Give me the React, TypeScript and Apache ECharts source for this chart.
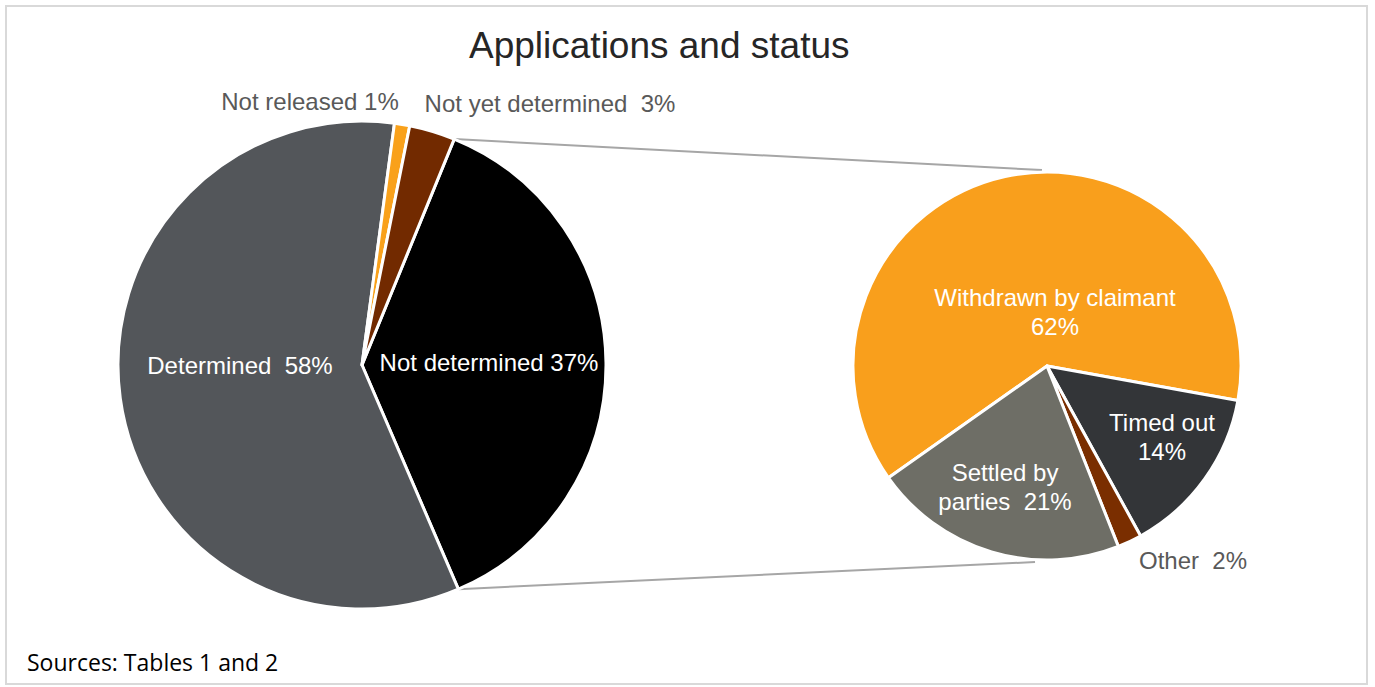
import React, { useEffect, useRef } from "react";
import * as echarts from "echarts";

// ---- Data ----
const mainCategories = ["Not determined", "Determined", "Not released", "Not yet determined"];
const mainValues = [37, 58, 1, 3];
const mainLabels = ["Not determined 37%", "Determined  58%", "Not released 1%", "Not yet determined  3%"];

const subCategories = ["Withdrawn by claimant", "Timed out", "Other", "Settled by parties"];
const subValues = [62, 14, 2, 21];
const subLabels = ["Withdrawn by claimant\n62%", "Timed out\n14%", "Other  2%", "Settled by\nparties  21%"];

// ---- Styles / layout ----
const mainColors = ["#000000", "#53565A", "#F9A11B", "#722A00"];
const subColors = ["#F99F1C", "#333538", "#7A2E00", "#6E6E66"];
const mainInside = [true, true, false, false];
const subInside = [true, true, false, true];

const MAIN_C = [362, 365];
const MAIN_R = 244;
const MAIN_START = 67.8;
const SUB_C = [1047, 366];
const SUB_R = 194;
const SUB_START = 215.2;

const FONT = "'Liberation Sans', Arial, sans-serif";

const mainLabelPos = [
  [489, 362],
  [240, 365],
  [310, 101],
  [550, 103],
];
const subLabelPos = [
  [1055, 312],
  [1162, 437],
  [1193, 560],
  [1005, 487],
];

export default function App() {
  const ref = useRef<HTMLDivElement>(null);
  useEffect(() => {
    document.body.style.margin = "0";
    const chart = echarts.init(ref.current!, null, { renderer: "svg" });

    const total = mainValues.reduce((a, b) => a + b, 0);
    const startRad = (MAIN_START * Math.PI) / 180;
    const endRad = ((MAIN_START - (mainValues[0] / total) * 360) * Math.PI) / 180;
    const p1 = [MAIN_C[0] + MAIN_R * Math.cos(startRad), MAIN_C[1] - MAIN_R * Math.sin(startRad)];
    const p2 = [MAIN_C[0] + MAIN_R * Math.cos(endRad), MAIN_C[1] - MAIN_R * Math.sin(endRad)];
    const q1 = [SUB_C[0] - 5, SUB_C[1] - SUB_R - 2];
    const q2 = [SUB_C[0] - 12, SUB_C[1] + SUB_R + 2];

    const makeData = (cats: string[], vals: number[], cols: string[], labels: string[], inside: boolean[]) =>
      cats.map((c, i) => ({
        name: c,
        value: vals[i],
        itemStyle: { color: cols[i] },
        label: {
          formatter: labels[i],
          color: inside[i] ? "#FFFFFF" : "#595959",
        },
      }));

    const labelCfg = {
      show: true,
      position: "inside",
      fontFamily: FONT,
      fontSize: 24,
      lineHeight: 29,
      align: "center",
    };

    const option: any = {
      animation: false,
      backgroundColor: "#FFFFFF",
      title: {
        text: "Applications and status",
        left: 464,
        top: 22,
        textStyle: {
          fontFamily: FONT,
          fontSize: 37,
          fontWeight: "normal",
          color: "#262626",
        },
      },
      graphic: [
        {
          type: "rect",
          shape: { x: 6, y: 6, width: 1361, height: 678 },
          style: { fill: "none", stroke: "#D9D9D9", lineWidth: 2 },
          silent: true,
        },
        {
          type: "line",
          shape: { x1: p1[0], y1: p1[1], x2: q1[0], y2: q1[1] },
          style: { stroke: "#A6A6A6", lineWidth: 2 },
          silent: true,
        },
        {
          type: "line",
          shape: { x1: p2[0], y1: p2[1], x2: q2[0], y2: q2[1] },
          style: { stroke: "#A6A6A6", lineWidth: 2 },
          silent: true,
        },
        {
          type: "text",
          left: 27,
          top: 650,
          style: {
            text: "Sources: Tables 1 and 2",
            fontFamily: "'Open Sans', sans-serif",
            fontSize: 23,
            fill: "#000000",
          },
        },
      ],
      series: [
        {
          type: "pie",
          center: MAIN_C,
          radius: [0, MAIN_R],
          startAngle: MAIN_START,
          clockwise: true,
          avoidLabelOverlap: false,
          itemStyle: { borderColor: "#FFFFFF", borderWidth: 3 },
          label: labelCfg,
          labelLine: { show: false },
          labelLayout: (params: any) => ({
            x: mainLabelPos[params.dataIndex][0],
            y: mainLabelPos[params.dataIndex][1],
            align: "center",
            verticalAlign: "middle",
          }),
          emphasis: { disabled: true },
          data: makeData(mainCategories, mainValues, mainColors, mainLabels, mainInside),
        },
        {
          type: "pie",
          center: SUB_C,
          radius: [0, SUB_R],
          startAngle: SUB_START,
          clockwise: true,
          avoidLabelOverlap: false,
          itemStyle: { borderColor: "#FFFFFF", borderWidth: 3 },
          label: labelCfg,
          labelLine: { show: false },
          labelLayout: (params: any) => ({
            x: subLabelPos[params.dataIndex][0],
            y: subLabelPos[params.dataIndex][1],
            align: "center",
            verticalAlign: "middle",
          }),
          emphasis: { disabled: true },
          data: makeData(subCategories, subValues, subColors, subLabels, subInside),
        },
      ],
    };
    chart.setOption(option);
    return () => chart.dispose();
  }, []);
  return <div ref={ref} style={{ width: 1375, height: 687 }} />;
}
